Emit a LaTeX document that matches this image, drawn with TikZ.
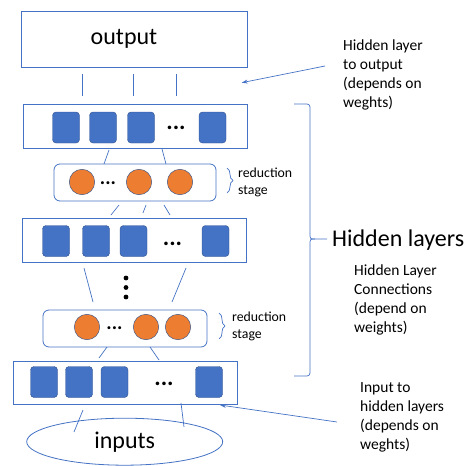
\documentclass[tikz,border=0pt]{standalone}
\usepackage{fontspec}
\setmainfont{Carlito}
\usepackage{tikz}
\usetikzlibrary{shapes, arrows.meta, positioning}
\usetikzlibrary{decorations.pathreplacing}
\definecolor{pptblue}{HTML}{4472C4}
\definecolor{pptdark}{HTML}{2F528F}
\definecolor{pptorange}{HTML}{ED7D31}
\tikzset{
    layer/.style ={draw=pptblue, line width=0.8pt, minimum width=224, minimum height=44, inner sep=0pt},
    redlayer/.style ={layer, rounded corners=6pt, minimum height=37},
    unit/.style ={draw=pptdark, fill=pptblue, rounded corners=3.5pt, minimum width=27, minimum height=31, inner sep=0pt},
    redunit/.style ={circle, draw=pptdark, fill=pptorange, minimum size=25.5, inner sep=0pt},
    dots/.style ={font=\fontsize{24}{24}\selectfont\bfseries, inner sep=0pt},% the ... between units
    link/.style ={draw=pptblue, line width=0.7pt},
    bigtext/.style ={font=\fontsize{24}{29}\selectfont},
    note/.style ={font=\fontsize{15.5}{19}\selectfont, align=left, anchor=north west, inner sep=0pt},
    smallnote/.style ={font=\fontsize{13.8}{17}\selectfont, align=left, anchor=north west, inner sep=0pt},
    sbrace/.style ={draw=pptblue, line width=0.7pt, decorate, decoration={brace, amplitude=6pt}},
}

\begin{document}
\begin{tikzpicture}[x=1pt, y=-1pt]
            \useasboundingbox (0,0) rectangle (467,466);
            % layers
            \node[layer, minimum width=226, minimum height=56, label={[bigtext, xshift=-10pt]center:output}] (out) at (134,39) {};
            \node[layer] (h1) at (135,126) {};
            \node[redlayer, minimum width=162] (r1) at (135,182.5) {};
            \node[layer] (h2) at (134,240) {};
            \node[redlayer, minimum width=164] (r2) at (125,328.5) {};
            \node[layer, minimum height=43] (h3) at (125,382.5) {};
            \node[ellipse, draw=pptblue, line width=0.8pt, minimum width=196, minimum height=47, bigtext] (in) at (124.7,441.7) {inputs};
            % units
            \node[unit] (h1a) at (66,127.5) {};
            \node[unit] (h1b) at (103,127.5) {};
            \node[unit] (h1c) at (141,127.5) {};
            \node[dots] (h1d) at (176,128) {...};
            \node[unit] (h1e) at (212.5,127.5) {};
            \node[redunit] (r1a) at (82,182) {};
            \node[dots, font=\fontsize{20}{20}\selectfont\bfseries] (r1d) at (108,183) {...};
            \node[redunit] (r1b) at (139,182) {};
            \node[redunit] (r1c) at (180,182) {};
            \node[unit] (h2a) at (56,241) {};
            \node[unit] (h2b) at (96,241) {};
            \node[unit] (h2c) at (133.5,241) {};
            \node[dots] (h2d) at (172.5,244) {...};
            \node[unit] (h2e) at (215.5,241) {};
            \node[redunit] (r2a) at (87,327) {};
            \node[dots, font=\fontsize{20}{20}\selectfont\bfseries] (r2d) at (114.5,328) {...};
            \node[redunit] (r2b) at (146,327) {};
            \node[redunit] (r2c) at (178,327) {};
            \node[unit] (h3a) at (44,382) {};
            \node[unit] (h3b) at (79,382) {};
            \node[unit] (h3c) at (114.5,382) {};
            \node[dots] (h3d) at (164,384) {...};
            \node[unit] (h3e) at (209,382) {};
            \fill (126,278) circle (2.4);
            \fill (126,287.5) circle (2.4);
            \fill (126,297) circle (2.4);
            % connections
            \coordinate (o1) at (82,74);   \coordinate (o1e) at (82,96);
            \coordinate (o2) at (133,74);  \coordinate (o2e) at (133,96);
            \coordinate (o3) at (176,74);  \coordinate (o3e) at (176,96);
            \coordinate (a1) at (109,150); \coordinate (a1e) at (104,164);
            \coordinate (a2) at (162,149); \coordinate (a2e) at (166,164);
            \coordinate (b1) at (119,205); \coordinate (b1e) at (111,215);
            \coordinate (b2) at (146,205); \coordinate (b2e) at (143,213);
            \coordinate (b3) at (164,205); \coordinate (b3e) at (170,215);
            \coordinate (c1) at (84,268);  \coordinate (c1e) at (93,302);
            \coordinate (c2) at (186,268); \coordinate (c2e) at (172,302);
            \coordinate (d1) at (107,347); \coordinate (d1e) at (99,358);
            \coordinate (d2) at (150,347); \coordinate (d2e) at (159,360);
            \coordinate (e1) at (83,410);  \coordinate (e1e) at (74,432);
            \coordinate (e2) at (181,403); \coordinate (e2e) at (184,427);
            \path[link] (o1) edge (o1e) (o2) edge (o2e) (o3) edge (o3e);
            \path[link] (a1) edge (a1e) (a2) edge (a2e);
            \path[link] (b1) edge (b1e) (b2) edge (b2e) (b3) edge (b3e);
            \path[link] (c1) edge (c1e) (c2) edge (c2e);
            \path[link] (d1) edge (d1e) (d2) edge (d2e);
            \path[link] (e1) edge (e1e) (e2) edge (e2e);
            % braces and notes
            \draw[sbrace] (227,168) -- (227,193);
            \node[smallnote] (rs1) at (238,168) {reduction\\stage};
            \draw[sbrace] (219,313) -- (219,339);
            \node[smallnote] (rs2) at (232,312) {reduction\\stage};
            \draw[link, rounded corners=3pt] (294,104) -- (310,104) -- (310,233);
            \draw[link] (310,233) .. controls (310,239) .. (315,239) -- (327,239);
            \draw[link, rounded corners=3pt] (294,376) -- (310,376) -- (310,245);
            \draw[link] (310,245) .. controls (310,239) .. (315,239);
            \node[bigtext, anchor=base west, inner sep=0pt] (hl) at (332,246.7) {Hidden layers};
            \node[note] (n1) at (343,40) {Hidden layer\\to output\\(depends on\\weghts)};
            \node[note] (n2) at (354,265) {Hidden Layer\\Connections\\(depend on\\weights)};
            \node[note] (n3) at (360,382.7) {Input to\\hidden layers\\(depends on\\weghts)};
            \coordinate (t1) at (325,66);  \coordinate (t1e) at (241.7,82.7);
            \coordinate (t2) at (337,422); \coordinate (t2e) at (220,405);
            \draw[link, -{Stealth[length=6pt, width=4pt]}] (t1) -- (t1e);
            \draw[link, -{Stealth[length=6pt, width=4pt]}] (t2) -- (t2e);
        \end{tikzpicture}
\end{document}
